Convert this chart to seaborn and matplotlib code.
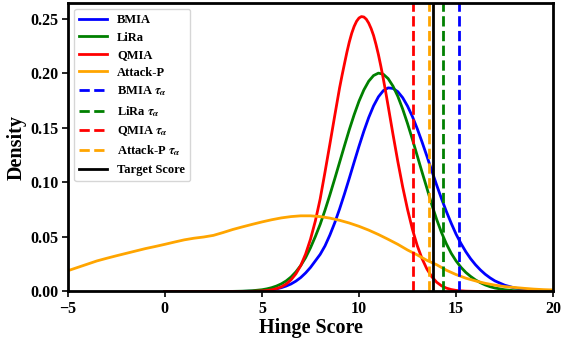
import matplotlib
matplotlib.use("Agg")
import matplotlib.pyplot as plt
import seaborn as sns
import pandas as pd

# ---------------- data ----------------
score_grid = [0, 1, 2, 3, 3.5, 4, 4.5,
              5, 5.25, 5.5, 5.75, 6, 6.25, 6.5, 6.75, 7, 7.25, 7.5, 7.75,
              8, 8.25, 8.5, 8.75, 9, 9.25, 9.5, 9.75, 10, 10.25, 10.5, 10.75,
              11, 11.25, 11.5, 11.75, 12, 12.25, 12.5, 12.75, 13, 13.25, 13.5, 13.75,
              14, 14.25, 14.5, 14.75, 15, 15.25, 15.5, 15.75, 16, 16.25, 16.5, 16.75,
              17, 17.5, 18, 18.5, 19, 19.5, 20]

bmia_density = [0, 0, 0, 0.00002, 0.00005, 0.0001, 0.0003,
                0.0007, 0.0011, 0.0016, 0.0024, 0.0035, 0.0050, 0.0069, 0.0095, 0.0128, 0.0170, 0.0220, 0.0280,
                0.0340, 0.0418, 0.0517, 0.0629, 0.0756, 0.0893, 0.1037, 0.1185, 0.1330, 0.1468, 0.1593, 0.1700,
                0.1783, 0.1839, 0.1865, 0.1860, 0.1830, 0.1775, 0.1698, 0.1603, 0.1491, 0.1368, 0.1238, 0.1105,
                0.0975, 0.0850, 0.0733, 0.0625, 0.0525, 0.0440, 0.0365, 0.0300, 0.0245, 0.0198, 0.0158, 0.0125,
                0.0097, 0.0058, 0.0033, 0.0018, 0.0009, 0.0004, 0.0002]

lira_density = [0, 0, 0, 0.00004, 0.0001, 0.0003, 0.0007,
                0.0016, 0.0024, 0.0035, 0.0050, 0.0070, 0.0097, 0.0133, 0.0180, 0.0238, 0.0310, 0.0400, 0.0503,
                0.0615, 0.0745, 0.0885, 0.1032, 0.1183, 0.1334, 0.1482, 0.1619, 0.1743, 0.1846, 0.1926, 0.1978,
                0.2000, 0.1990, 0.1950, 0.1881, 0.1787, 0.1671, 0.1538, 0.1394, 0.1243, 0.1092, 0.0945, 0.0795,
                0.0660, 0.0540, 0.0437, 0.0350, 0.0280, 0.0222, 0.0175, 0.0138, 0.0106, 0.0081, 0.0060, 0.0044,
                0.0032, 0.0016, 0.0007, 0.0003, 0.0001, 0.00005, 0]

qmia_grid = [0, 1, 2, 3, 3.5, 4, 4.5,
             5, 5.25, 5.5, 5.75, 6, 6.25, 6.5, 6.75, 7, 7.25, 7.5, 7.75,
             8, 8.25, 8.5, 8.75, 9, 9.125, 9.25, 9.375, 9.5, 9.625, 9.75, 9.875,
             10, 10.125, 10.25, 10.375, 10.5, 10.625, 10.75, 10.875,
             11, 11.125, 11.25, 11.375, 11.5, 11.75, 12, 12.25, 12.5, 12.75, 13, 13.25, 13.5, 13.75,
             14, 14.25, 14.5, 14.75, 15, 15.25, 15.5, 15.75, 16, 17, 18, 19, 20]

qmia_density = [0, 0, 0, 0, 0.00001, 0.00004, 0.00015,
                0.0005, 0.0009, 0.0015, 0.0026, 0.0042, 0.0068, 0.0107, 0.0162, 0.0238, 0.0343, 0.0478, 0.0645,
                0.0848, 0.1095, 0.1350, 0.1610, 0.1865, 0.1978, 0.2085, 0.2190, 0.2285, 0.2365, 0.2428, 0.2475,
                0.2505, 0.2518, 0.2514, 0.2494, 0.2458, 0.2408, 0.2345, 0.2263,
                0.2170, 0.2064, 0.1950, 0.1828, 0.1700, 0.1440, 0.1190, 0.0958, 0.0752, 0.0570, 0.0420, 0.0300, 0.0205, 0.0135,
                0.0085, 0.0052, 0.0031, 0.0018, 0.0010, 0.0006, 0.0003, 0.0002, 0.0001, 0, 0, 0, 0]

attackp_grid = [-5, -4.5, -4, -3.5, -3, -2.5, -2, -1.5, -1, -0.5,
                0, 0.5, 1, 1.5, 2, 2.5, 3, 3.5, 4, 4.5,
                5, 5.5, 6, 6.5, 7, 7.5, 8, 8.5, 9, 9.5,
                10, 10.5, 11, 11.5, 12, 12.5, 13, 13.5, 14, 14.5,
                15, 15.5, 16, 16.5, 17, 17.5, 18, 18.5, 19, 19.5, 20]

attackp_density = [0.0190, 0.0220, 0.0250, 0.0280, 0.0304, 0.0327, 0.0349, 0.0371, 0.0393, 0.0412,
                   0.0432, 0.0453, 0.0473, 0.0488, 0.0499, 0.0514, 0.0540, 0.0568, 0.0592, 0.0615,
                   0.0637, 0.0657, 0.0674, 0.0686, 0.0693, 0.0693, 0.0686, 0.0672, 0.0652, 0.0627,
                   0.0597, 0.0562, 0.0522, 0.0478, 0.0432, 0.0380, 0.0335, 0.0285, 0.0245, 0.0195,
                   0.0155, 0.0122, 0.0097, 0.0075, 0.0058, 0.0045, 0.0037, 0.0029, 0.0022, 0.0017, 0.0014]

methods = ["BMIA", "LiRa", "QMIA", "Attack-P"]
colors = ["blue", "green", "red", "orange"]
thresholds = [15.15, 14.35, 12.80, 13.59]   # tau_alpha per method
target_score = 13.83

x_ticks = [-5, 0, 5, 10, 15, 20]
y_ticks = [0.00, 0.05, 0.10, 0.15, 0.20, 0.25]

# ---------------- style ----------------
plt.rcParams["font.family"] = ["Liberation Serif", "DejaVu Serif"]
plt.rcParams["font.weight"] = "bold"
plt.rcParams["mathtext.fontset"] = "stix"
plt.rcParams["axes.linewidth"] = 2.0

fig, ax = plt.subplots(figsize=(5.65, 3.38), dpi=100)
fig.subplots_adjust(left=0.120, right=0.979, bottom=0.1376, top=0.992)

series = [bmia_density, lira_density, qmia_density, attackp_density]
grids = [score_grid, score_grid, qmia_grid, attackp_grid]
for name, col, xs, ys in zip(methods, colors, grids, series):
    df = pd.DataFrame({"Hinge Score": xs, "Density": ys})
    sns.lineplot(data=df, x="Hinge Score", y="Density", color=col, lw=2.0,
                 label=name, ax=ax)

for name, col, t in zip(methods, colors, thresholds):
    ax.axvline(t, color=col, ls="--", lw=2.0, label=name + r" $\tau_{\alpha}$")
ax.axvline(target_score, color="black", ls="-", lw=2.0, label="Target Score")

ax.set_xlim(-5, 20)
ax.set_ylim(0, 0.2645)
ax.set_xticks(x_ticks)
ax.set_xticklabels([f"{v:d}" if v >= 0 else f"\u2212{abs(v)}" for v in x_ticks],
                   fontsize=11.5, fontweight="bold")
ax.set_yticks(y_ticks)
ax.set_yticklabels([f"{v:.2f}" for v in y_ticks], fontsize=11.5, fontweight="bold")
ax.tick_params(axis="both", width=1.2, length=4, pad=2.5)
ax.set_xlabel("Hinge Score", fontsize=14.5, fontweight="bold", labelpad=1)
ax.set_ylabel("Density", fontsize=14.5, fontweight="bold", labelpad=3)

ax.legend(loc="upper left", handlelength=2.25, handletextpad=0.8,
          labelspacing=0.45, borderpad=0.4,
          prop={"family": "Liberation Serif", "weight": "bold", "size": 9})

fig.savefig("out.png", dpi=100)
